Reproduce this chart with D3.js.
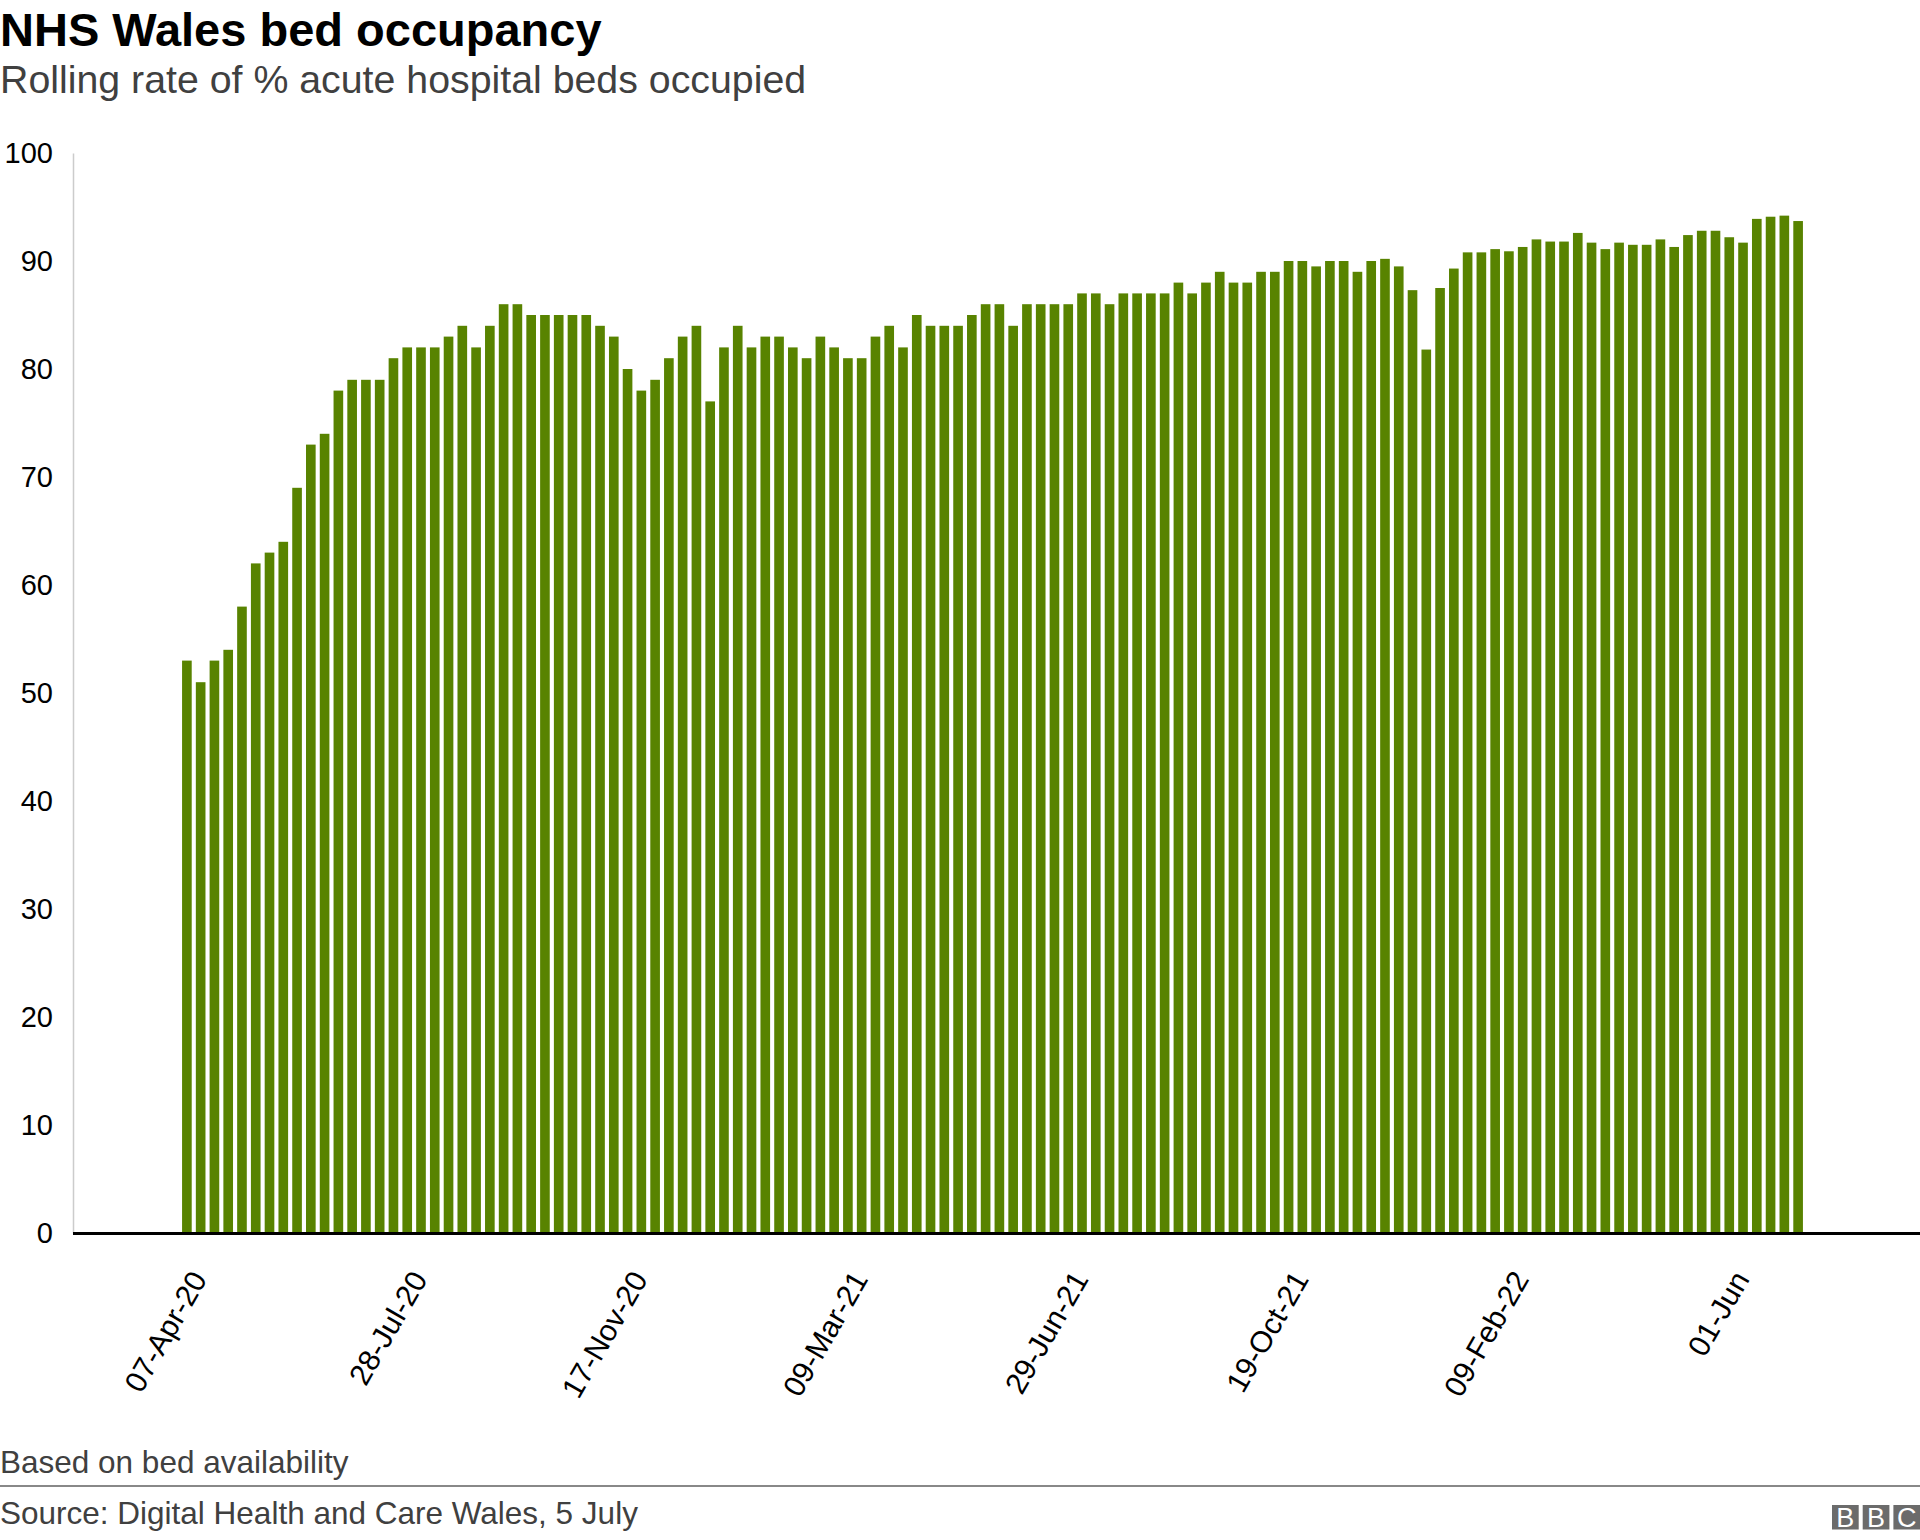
<!DOCTYPE html>
<html>
<head>
<meta charset="utf-8">
<script src="https://cdn.jsdelivr.net/npm/d3@7"></script>
<style>
  html, body { margin: 0; padding: 0; background: #fff; }
  svg { display: block; }
  text { font-family: "Liberation Sans", Arial, Helvetica, sans-serif; }
</style>
</head>
<body>
<svg id="chart" width="1920" height="1540"></svg>
<script>
// ---- data ----
const startWeek = "2020-04-07";
const weekCount = 118;
const values = [
  53, 51, 53, 54, 58, 62, 63, 64, 69, 73, 74, 78, 79, 79, 79, 81, 82, 82, 82, 83, 84, 82, 84, 86, 86, 85, 85, 85, 85,
  85, 84, 83, 80, 78, 79, 81, 83, 84, 77, 82, 84, 82, 83, 83, 82, 81, 83, 82, 81, 81, 83, 84, 82, 85, 84, 84, 84, 85,
  86, 86, 84, 86, 86, 86, 86, 87, 87, 86, 87, 87, 87, 87, 88, 87, 88, 89, 88, 88, 89, 89, 90, 90, 89.5, 90, 90, 89, 90,
  90.2, 89.5, 87.3, 81.8, 87.5, 89.3, 90.8, 90.8, 91.1, 90.9, 91.3, 92.0, 91.8, 91.8, 92.6, 91.7, 91.1, 91.7, 91.5, 91.5,
  92.0, 91.3, 92.4, 92.8, 92.8, 92.2, 91.7, 93.9, 94.1, 94.2, 93.7
];
const tickIndices = [0, 16, 32, 48, 64, 80, 96, 112];
const tickLabels = ["07-Apr-20", "28-Jul-20", "17-Nov-20", "09-Mar-21", "29-Jun-21", "19-Oct-21", "09-Feb-22", "01-Jun"];
const yTicks = [0, 10, 20, 30, 40, 50, 60, 70, 80, 90, 100];

const titleText = "NHS Wales bed occupancy";
const subtitleText = "Rolling rate of % acute hospital beds occupied";
const noteText = "Based on bed availability";
const sourceText = "Source: Digital Health and Care Wales, 5 July";
const logoLetters = ["B", "B", "C"];

// categories (weekly dates)
const parse = d3.timeParse("%Y-%m-%d");
const fmt = d3.timeFormat("%d-%b-%y");
const categories = d3.range(weekCount).map(i => fmt(d3.timeDay.offset(parse(startWeek), 7 * i)));
const data = categories.map((c, i) => ({ cat: c, value: values[i] }));

// ---- layout ----
const svg = d3.select("#chart");
const axisLeft = 73, axisRight = 1920;
const yTop = 153, yBottom = 1233;

const x = d3.scaleBand()
  .domain(categories)
  .range([180, 1805])
  .paddingInner(0.3)
  .paddingOuter(0.15);

const y = d3.scaleLinear().domain([0, 100]).range([yBottom, yTop]);

// title
svg.append("text").attr("x", 0).attr("y", 46)
  .attr("font-size", 47).attr("font-weight", "bold").attr("fill", "#000")
  .text(titleText);
svg.append("text").attr("x", 0).attr("y", 93)
  .attr("font-size", 39.3).attr("fill", "#404040")
  .text(subtitleText);

// y axis
const yAxis = d3.axisLeft(y).tickValues(yTicks).tickSize(0).tickPadding(20);
const gy = svg.append("g").attr("transform", `translate(${axisLeft},0)`).call(yAxis);
gy.select(".domain").attr("stroke", "#cccccc").attr("stroke-width", 1.5);
gy.selectAll(".tick text")
  .attr("font-size", 29).attr("fill", "#000")
  .style("font-family", '"Liberation Sans", Arial, Helvetica, sans-serif');

// bars
svg.append("g").selectAll("rect").data(data).join("rect")
  .attr("x", d => x(d.cat))
  .attr("width", x.bandwidth())
  .attr("y", d => y(d.value))
  .attr("height", d => y(0) - y(d.value))
  .attr("fill", "#588300");

// baseline
svg.append("line")
  .attr("x1", axisLeft).attr("x2", axisRight)
  .attr("y1", y(0) + 0.5).attr("y2", y(0) + 0.5)
  .attr("stroke", "#000").attr("stroke-width", 3);

// x tick labels
const gx = svg.append("g");
gx.selectAll("text").data(tickIndices).join("text")
  .attr("transform", (d) => {
    const cx = x(categories[d]) + x.bandwidth() / 2 + 21;
    const cy = y(0) + 46;
    return `translate(${cx},${cy}) rotate(-60)`;
  })
  .attr("text-anchor", "end")
  .attr("font-size", 30)
  .attr("fill", "#000")
  .text((d, i) => tickLabels[i]);

// footer
svg.append("text").attr("x", 0).attr("y", 1473)
  .attr("font-size", 31.5).attr("fill", "#404040").text(noteText);
svg.append("line").attr("x1", 0).attr("x2", 1920).attr("y1", 1486).attr("y2", 1486)
  .attr("stroke", "#888888").attr("stroke-width", 2);
svg.append("text").attr("x", 0).attr("y", 1524)
  .attr("font-size", 31.5).attr("fill", "#404040").text(sourceText);

// BBC logo
const logo = svg.append("g").attr("transform", "translate(1832,1505)");
logoLetters.forEach((l, i) => {
  logo.append("rect").attr("x", i * 30.7).attr("y", 0).attr("width", 26.7).attr("height", 24.5).attr("fill", "#6b6b6b");
  logo.append("text").attr("x", i * 30.7 + 13.35).attr("y", 22).attr("text-anchor", "middle")
    .attr("font-size", 27).attr("fill", "#fff").text(l);
});
</script>
</body>
</html>
